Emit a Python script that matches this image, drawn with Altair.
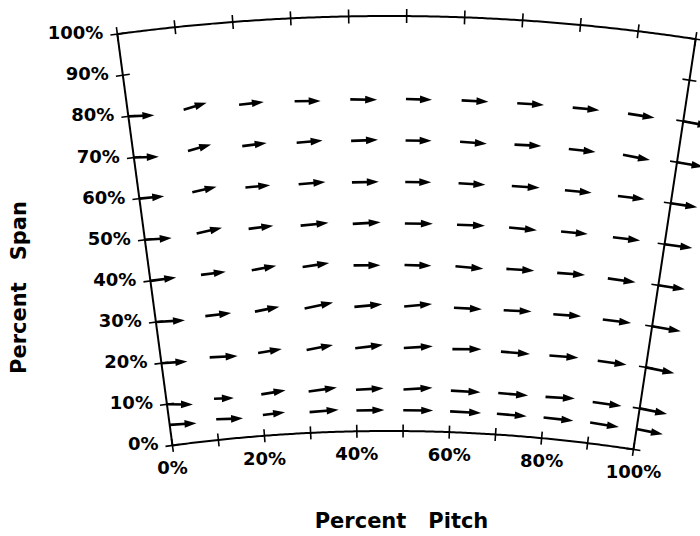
import altair as alt
import pandas as pd

# ---------------- data ----------------
pitch_pct = [0, 10, 20, 30, 40, 50, 60, 70, 80, 90, 100]
span_rows = [5, 10, 20, 30, 40, 50, 60, 70, 80]
tick_pct = [0, 10, 20, 30, 40, 50, 60, 70, 80, 90, 100]

# flow angle (deg) relative to the circumferential (pitch) direction, + toward tip
angle_05 = [-4, -4, 3, 2, 0, 0, -1, -1, -1, -2, -3]
angle_10 = [-8, -4, 5, 5, 2, 4, -1, -1, 2, -1, -3]
angle_20 = [-4, -3, 5, 8, 6, 4, 2, -1, 1, -1, -3]
angle_30 = [-4, 1, 7, 9, 4, 6, -1, 1, 1, 0, -1]
angle_40 = [0, 1, 6, 6, -1, -1, -3, 0, 1, -1, 0]
angle_50 = [-4, 7, 3, 3, 2, 0, 0, -2, 0, 0, 1]
angle_60 = [-2, 7, 1, 2, 0, 0, -1, 0, 0, 0, 0]
angle_70 = [-6, 10, 3, 2, 1, 0, -2, 1, -1, -4, -1]
angle_80 = [-5, 11, 2, -2, -2, -1, -1, 0, 0, -2, -2]

# relative velocity magnitude
vel_05 = [0.96, 0.96, 0.80, 1.04, 1.00, 1.07, 1.11, 1.07, 1.07, 1.04, 0.96]
vel_10 = [0.93, 0.71, 0.88, 1.02, 0.99, 1.04, 1.06, 1.07, 1.05, 1.04, 1.00]
vel_20 = [0.93, 1.00, 0.86, 0.96, 1.00, 1.04, 1.04, 1.04, 1.04, 1.04, 1.04]
vel_30 = [1.04, 0.93, 0.89, 1.04, 1.00, 1.00, 1.00, 1.00, 1.00, 1.02, 1.04]
vel_40 = [0.93, 0.89, 0.89, 0.96, 0.96, 0.96, 1.00, 1.00, 1.00, 1.00, 0.96]
vel_50 = [0.96, 0.93, 0.89, 1.00, 1.00, 1.00, 1.00, 1.00, 0.96, 0.98, 1.00]
vel_60 = [0.89, 0.89, 0.89, 0.96, 0.96, 0.93, 0.96, 1.00, 0.96, 0.96, 0.96]
vel_70 = [0.89, 0.86, 0.88, 0.93, 0.96, 0.93, 0.96, 0.96, 0.96, 0.98, 0.96]
vel_80 = [0.93, 0.86, 0.89, 0.93, 0.96, 0.93, 0.96, 0.96, 0.96, 0.96, 0.96]

angles = [angle_05, angle_10, angle_20, angle_30, angle_40, angle_50, angle_60, angle_70, angle_80]
vels = [vel_05, vel_10, vel_20, vel_30, vel_40, vel_50, vel_60, vel_70, vel_80]

rows = []
for s, arow, vrow in zip(span_rows, angles, vels):
    for p, a, v in zip(pitch_pct, arow, vrow):
        rows.append({"pitch": p, "span": s, "alpha": a, "vel": v})
arrows_df = pd.DataFrame(rows)

tick_rows = []
for t in tick_pct:
    tick_rows.append({"pitch": t, "span": 0, "kind": "r", "side": "hub"})
    tick_rows.append({"pitch": t, "span": 100, "kind": "r", "side": "tip"})
    tick_rows.append({"pitch": 0, "span": t, "kind": "t", "side": "left"})
    tick_rows.append({"pitch": 100, "span": t, "kind": "t", "side": "right"})
ticks_df = pd.DataFrame(tick_rows)

span_lab_df = pd.DataFrame({"pitch": 0, "span": tick_pct, "label": [f"{t}%" for t in tick_pct]})
pitch_lab_df = pd.DataFrame({"pitch": [0, 20, 40, 60, 80, 100], "span": 0,
                             "label": [f"{t}%" for t in [0, 20, 40, 60, 80, 100]]})
edge_df = pd.DataFrame({"pitch": [0, 100]})

# ---------------- geometry (annular sector) ----------------
W, H = 700, 536
PX = 2046.0             # pixels per unit radius
CX, CY = 389.0, 2062.0  # pixel position of the sector's centre
TH0, TH1 = -7.63, 8.62  # angular extent (deg)
R_HUB, R_TIP = 1631.0 / PX, 1.0
ARROW_PX = 28.0
HEAD_PX = 12.0
FONT = "DejaVu Sans"
GAP = "\u00a0\u00a0\u00a0"

xs = alt.Scale(domain=[(0 - CX) / PX, (W - CX) / PX], nice=False, zero=False)
ys = alt.Scale(domain=[(CY - H) / PX, CY / PX], nice=False, zero=False)

x_axis = alt.Axis(title="Percent" + GAP + "Pitch", labels=False, ticks=False, domain=False, grid=False,
                  titleFont=FONT, titleFontSize=21, titleFontWeight="bold", titleColor="black",
                  titleX=401, titleY=-15, titleAlign="center", titleBaseline="middle")
y_axis = alt.Axis(title="Percent" + GAP + "Span", labels=False, ticks=False, domain=False, grid=False,
                  titleFont=FONT, titleFontSize=21, titleFontWeight="bold", titleColor="black",
                  titleX=19, titleY=287, titleAngle=270, titleAlign="center", titleBaseline="middle")


def geo(chart, p="datum.pitch", s="datum.span"):
    return chart.transform_calculate(
        th=f"(({TH0})+({TH1 - TH0})*({p})/100)*PI/180",
        R=f"{R_HUB}+{R_TIP - R_HUB}*({s})/100",
    ).transform_calculate(
        X="datum.R*sin(datum.th)",
        Y="datum.R*cos(datum.th)",
    )


def X(field="X"):
    return alt.X(f"{field}:Q", scale=xs, axis=x_axis)


def Y(field="Y"):
    return alt.Y(f"{field}:Q", scale=ys, axis=y_axis)


# outline arcs
hub_arc = geo(alt.Chart(alt.sequence(0, 100.25, 0.5, as_="p")), p="datum.p", s="0").mark_line(
    color="black", strokeWidth=2).encode(x=X(), y=Y(), order="p:Q")
tip_arc = geo(alt.Chart(alt.sequence(0, 100.25, 0.5, as_="p")), p="datum.p", s="100").mark_line(
    color="black", strokeWidth=2).encode(x=X(), y=Y(), order="p:Q")

# side edges
edges = alt.Chart(edge_df).transform_calculate(
    th=f"(({TH0})+({TH1 - TH0})*datum.pitch/100)*PI/180"
).transform_calculate(
    X=f"{R_HUB}*sin(datum.th)", Y=f"{R_HUB}*cos(datum.th)",
    X2=f"{R_TIP}*sin(datum.th)", Y2=f"{R_TIP}*cos(datum.th)",
).mark_rule(color="black", strokeWidth=2).encode(x=X(), y=Y(), x2="X2:Q", y2="Y2:Q")

# ticks
ticks = geo(alt.Chart(ticks_df)).transform_calculate(
    dr=f"datum.kind == 'r' ? (datum.side == 'hub' ? 6.5 : 7) / {PX} : 0",
    dt=f"datum.kind == 't' ? 7 / {PX} : 0",
).transform_calculate(
    X1="(datum.R - datum.dr)*sin(datum.th) - datum.dt*cos(datum.th)",
    Y1="(datum.R - datum.dr)*cos(datum.th) + datum.dt*sin(datum.th)",
    X2="(datum.R + datum.dr)*sin(datum.th) + datum.dt*cos(datum.th)",
    Y2="(datum.R + datum.dr)*cos(datum.th) - datum.dt*sin(datum.th)",
).mark_rule(color="black", strokeWidth=1.6).encode(x=X("X1"), y=Y("Y1"), x2="X2:Q", y2="Y2:Q")

# tick labels
span_labels = geo(alt.Chart(span_lab_df)).mark_text(
    align="right", baseline="middle", dx=-14, font=FONT, fontSize=18, fontWeight="bold", color="black"
).encode(x=X(), y=Y(), text="label:N")
pitch_labels = geo(alt.Chart(pitch_lab_df)).mark_text(
    align="center", baseline="middle", dy=24, font=FONT, fontSize=18, fontWeight="bold", color="black"
).encode(x=X(), y=Y(), text="label:N")

# arrows
arrow_base = geo(alt.Chart(arrows_df)).transform_calculate(
    phi="datum.alpha*PI/180 - datum.th",
    L=f"datum.vel*{ARROW_PX}/{PX}",
).transform_calculate(
    Xs=f"datum.X + (datum.L - {HEAD_PX * 0.5}/{PX})*cos(datum.phi)",
    Ys=f"datum.Y + (datum.L - {HEAD_PX * 0.5}/{PX})*sin(datum.phi)",
    Xe="datum.X + datum.L*cos(datum.phi)",
    Ye="datum.Y + datum.L*sin(datum.phi)",
    ang="(360 - datum.phi*180/PI) % 360",
)
shafts = arrow_base.mark_rule(color="black", strokeWidth=2.6).encode(
    x=X(), y=Y(), x2="Xs:Q", y2="Ys:Q")
heads = arrow_base.mark_point(
    shape="M0,0 L-1,-0.32 L-1,0.32 Z", size=(HEAD_PX * 2) ** 2, filled=True,
    color="black", opacity=1, strokeWidth=0
).encode(x=X("Xe"), y=Y("Ye"), angle=alt.Angle("ang:Q", scale=None))

chart = alt.layer(
    hub_arc, tip_arc, edges, ticks, span_labels, pitch_labels, shafts, heads
).properties(
    width=W, height=H, padding=0, autosize=alt.AutoSizeParams(type="none"), background="white"
).configure_view(stroke=None)

chart.save("out.html", embed_options={"renderer": "svg", "actions": False})
